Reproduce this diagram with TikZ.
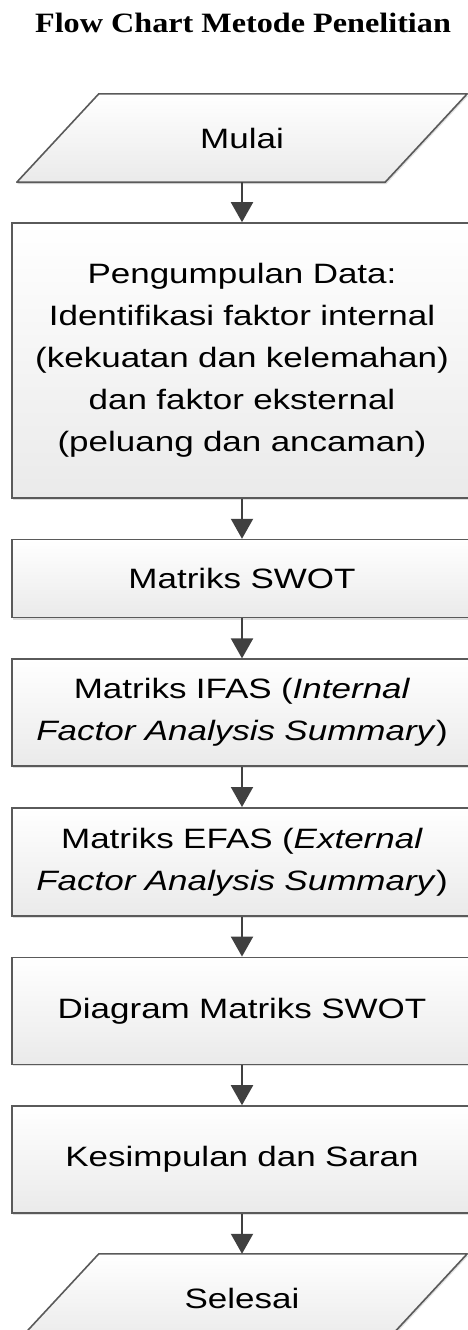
\documentclass[tikz,border=0pt]{standalone}
\usepackage{fontspec}
\setmainfont{Liberation Sans}
\newfontfamily\boxfont[FakeStretch=1.25]{Liberation Sans}
\newfontfamily\titlefont[FakeStretch=1.15]{Liberation Serif}
\usetikzlibrary{arrows.meta, positioning, shadows, backgrounds}

\definecolor{boxline}{HTML}{5A5A5A}
\definecolor{boxfill}{HTML}{EAEAEA}
\definecolor{arrowgray}{HTML}{404040}

\tikzset{
  flowbox/.style={rectangle, draw=boxline, line width=1.6pt, top color=white, bottom color=boxfill,
    text width=440pt, inner xsep=10pt, inner ysep=0pt, align=center, text=black,
    font=\boxfont\fontsize{28}{42}\selectfont,
    drop shadow={shadow xshift=1pt, shadow yshift=-2pt, opacity=0.25}},
  iobox/.style={rectangle, minimum width=368pt, minimum height=88pt, inner sep=0pt, text=black,
    font=\boxfont\fontsize{28}{42}\selectfont},
  iofill/.style={draw=boxline, line width=1.6pt, line join=round, top color=white, bottom color=boxfill,
    drop shadow={shadow xshift=1pt, shadow yshift=-2pt, opacity=0.25}},
  flowarrow/.style={-{Triangle[width=22pt, length=20pt]}, line width=2pt, draw=arrowgray}
}
\newcommand{\iodraw}[1]{%
  \path[iofill] ([xshift=-41pt]#1.south west) -- ([xshift=41pt]#1.north west)
    -- ([xshift=41pt]#1.north east) -- ([xshift=-41pt]#1.south east) -- cycle;}

\begin{document}
\begin{tikzpicture}[x=1pt, y=1pt, node distance=40pt]
  \useasboundingbox (0,0) rectangle (467,-1330);
  \node (judul) [anchor=base, font=\titlefont\bfseries\fontsize{28}{30}\selectfont] at (243,-33) {Flow Chart Metode Penelitian};

  \node (mulai) [iobox] at (242,-138) {Mulai};
  \node (kumpul) [flowbox, minimum height=275pt, below=of mulai] {Pengumpulan Data:\\ Identifikasi faktor internal\\ (kekuatan dan kelemahan)\\ dan faktor eksternal\\ (peluang dan ancaman)};
  \node (swot) [flowbox, minimum height=78pt, below=of kumpul] {Matriks SWOT};
  \node (ifas) [flowbox, minimum height=107pt, below=of swot] {Matriks IFAS (\textit{Internal}\\ \textit{Factor Analysis Summary})};
  \node (efas) [flowbox, minimum height=108pt, below=of ifas] {Matriks EFAS (\textit{External}\\ \textit{Factor Analysis Summary})};
  \node (diagram) [flowbox, minimum height=107pt, below=of efas] {Diagram Matriks SWOT};
  \node (simpul) [flowbox, minimum height=107pt, below=of diagram] {Kesimpulan dan Saran};
  \node (selesai) [iobox, below=of simpul] {Selesai};

  % start and end parallelograms behind their labels
  \begin{scope}[on background layer]
    \iodraw{mulai}
    \iodraw{selesai}
  \end{scope}

  \draw [flowarrow] (mulai) -- (kumpul);
  \draw [flowarrow] (kumpul) -- (swot);
  \draw [flowarrow] (swot) -- (ifas);
  \draw [flowarrow] (ifas) -- (efas);
  \draw [flowarrow] (efas) -- (diagram);
  \draw [flowarrow] (diagram) -- (simpul);
  \draw [flowarrow] (simpul) -- (selesai);
\end{tikzpicture}
\end{document}
